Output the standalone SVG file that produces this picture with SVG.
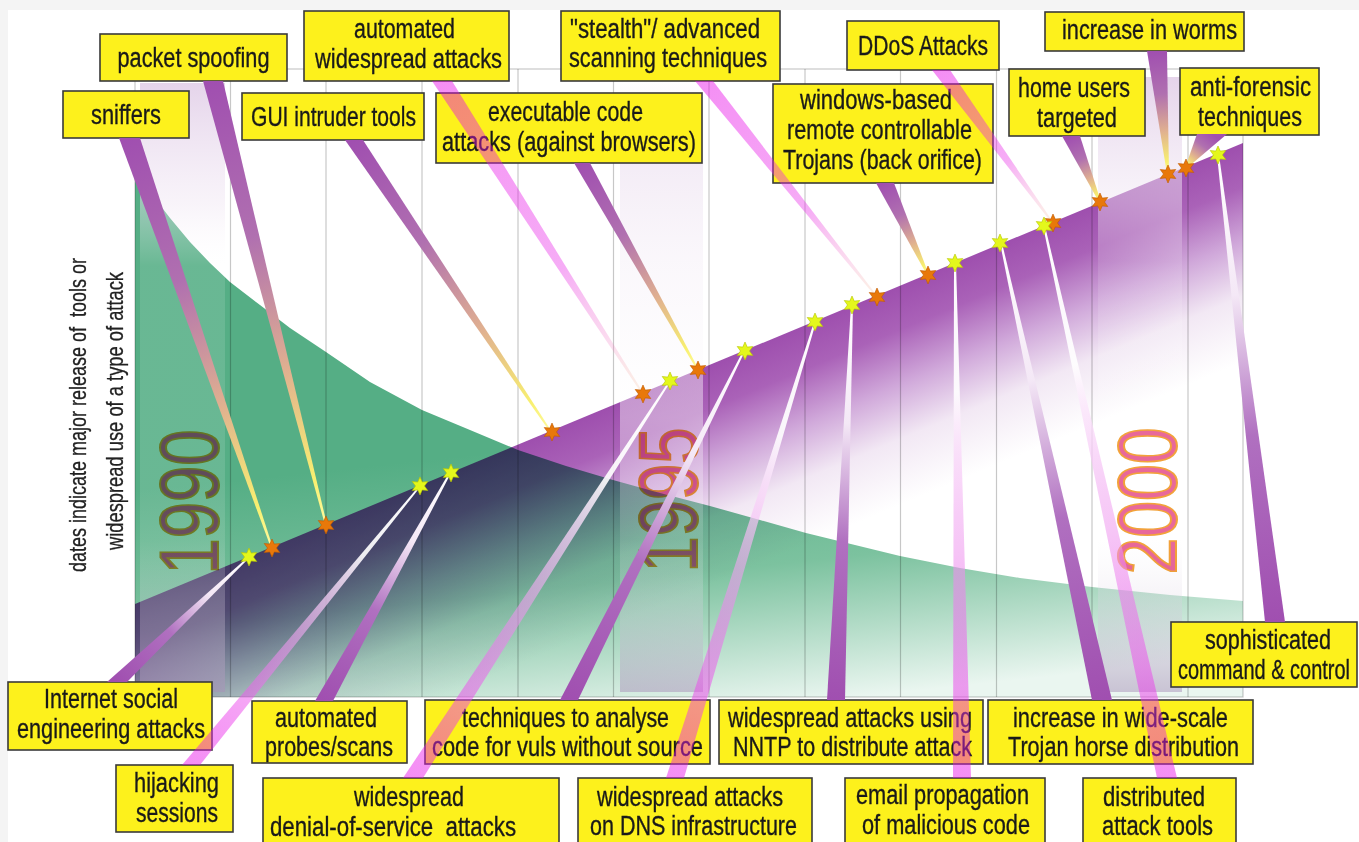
<svg xmlns="http://www.w3.org/2000/svg" width="1359" height="842" viewBox="0 0 1359 842">
<style>
.box{fill:#fdf11c;stroke:#3a3a3a;stroke-width:1.6}
.lbl{font-family:"Liberation Sans Narrow","Liberation Sans",Arial,sans-serif;font-size:27px;fill:#1a1a1a;stroke:#1a1a1a;stroke-width:0.35;text-anchor:middle}
.yr{font-family:"Liberation Sans",Arial,sans-serif;font-size:84px;fill:#e8689a;stroke:#f2a23a;stroke-width:2;text-anchor:middle;mix-blend-mode:multiply}
.axis{font-family:"Liberation Sans Narrow","Liberation Sans",Arial,sans-serif;font-size:24px;fill:#222;stroke:#222;stroke-width:0.3;text-anchor:middle}
.grid{stroke:#000;stroke-opacity:0.22;stroke-width:1.2;fill:none}
.col{fill:url(#colg)}
.ostar{fill:#e8780a;stroke:#c05a00;stroke-width:0.6}
.ystar{fill:#e4f71c;stroke:#b5c400;stroke-width:0.6}
</style>
<defs>
<linearGradient id="greenG" gradientUnits="userSpaceOnUse" x1="800" y1="420" x2="830" y2="700">
<stop offset="0" stop-color="#55ae85"/><stop offset="0.5" stop-color="#7cc29f"/><stop offset="1" stop-color="#eaf6f0"/>
</linearGradient>
<linearGradient id="purpG" gradientUnits="userSpaceOnUse" x1="700" y1="369" x2="778" y2="556">
<stop offset="0" stop-color="#9e4fae"/><stop offset="0.2" stop-color="#aa62b8"/><stop offset="0.45" stop-color="#d0a8da"/><stop offset="0.7" stop-color="#f2e8f4"/><stop offset="1" stop-color="#ffffff"/>
</linearGradient>
<linearGradient id="colg" x1="0" y1="0" x2="0" y2="1">
<stop offset="0" stop-color="#e2cfe8" stop-opacity="0.9"/><stop offset="0.2" stop-color="#f0e6f3" stop-opacity="0.45"/><stop offset="0.3" stop-color="#ffffff" stop-opacity="0.12"/><stop offset="0.75" stop-color="#ffffff" stop-opacity="0.12"/><stop offset="1" stop-color="#a890b8" stop-opacity="0.5"/>
</linearGradient>
<linearGradient id="colg2" x1="0" y1="0" x2="0" y2="1">
<stop offset="0" stop-color="#ffffff" stop-opacity="0.6"/><stop offset="0.1" stop-color="#ece0f0" stop-opacity="0.7"/><stop offset="0.3" stop-color="#f6f0f8" stop-opacity="0.5"/><stop offset="0.55" stop-color="#ffffff" stop-opacity="0.4"/><stop offset="0.75" stop-color="#ffffff" stop-opacity="0.12"/><stop offset="1" stop-color="#a890b8" stop-opacity="0.5"/>
</linearGradient>
<linearGradient id="tp">
<stop offset="0" stop-color="#a04fb0"/><stop offset="0.35" stop-color="#b070b0"/><stop offset="0.65" stop-color="#e0b090"/><stop offset="0.9" stop-color="#f8f070"/><stop offset="1" stop-color="#fffaa0"/>
</linearGradient>
<linearGradient id="tk">
<stop offset="0" stop-color="#e805e8" stop-opacity="0.45"/><stop offset="0.6" stop-color="#e830e8" stop-opacity="0.4"/><stop offset="0.85" stop-color="#f080c0" stop-opacity="0.25"/><stop offset="1" stop-color="#f0a060" stop-opacity="0.15"/>
</linearGradient>
<linearGradient id="bp">
<stop offset="0" stop-color="#a04fb0"/><stop offset="0.4" stop-color="#b070c0"/><stop offset="0.7" stop-color="#f4e8f6"/><stop offset="1" stop-color="#ffffff"/>
</linearGradient>
<linearGradient id="bk">
<stop offset="0" stop-color="#e805e8" stop-opacity="0.45"/><stop offset="0.45" stop-color="#f0a0f0" stop-opacity="0.6"/><stop offset="0.75" stop-color="#ffffff" stop-opacity="0.9"/><stop offset="1" stop-color="#ffffff" stop-opacity="1"/>
</linearGradient>
<linearGradient id="ga" href="#tp" gradientUnits="userSpaceOnUse" x1="129.5" y1="138" x2="272" y2="548"/>
<linearGradient id="gb" href="#tp" gradientUnits="userSpaceOnUse" x1="213" y1="81" x2="326" y2="525"/>
<linearGradient id="gc" href="#tp" gradientUnits="userSpaceOnUse" x1="354" y1="140" x2="551" y2="432"/>
<linearGradient id="gd" href="#tk" gradientUnits="userSpaceOnUse" x1="442" y1="81" x2="643" y2="394"/>
<linearGradient id="ge" href="#tp" gradientUnits="userSpaceOnUse" x1="582" y1="163" x2="698" y2="370"/>
<linearGradient id="gf" href="#tk" gradientUnits="userSpaceOnUse" x1="704" y1="81" x2="877" y2="297"/>
<linearGradient id="gg" href="#tp" gradientUnits="userSpaceOnUse" x1="885" y1="183" x2="928" y2="275"/>
<linearGradient id="gh" href="#tk" gradientUnits="userSpaceOnUse" x1="941" y1="70" x2="1052" y2="222"/>
<linearGradient id="gi" href="#tp" gradientUnits="userSpaceOnUse" x1="1071" y1="136" x2="1100" y2="202"/>
<linearGradient id="gj" href="#tp" gradientUnits="userSpaceOnUse" x1="1157" y1="51" x2="1168" y2="174"/>
<linearGradient id="gk" href="#tp" gradientUnits="userSpaceOnUse" x1="1212" y1="134" x2="1186" y2="168"/>
<linearGradient id="gl" href="#bp" gradientUnits="userSpaceOnUse" x1="117" y1="682" x2="249" y2="557"/>
<linearGradient id="gm" href="#bk" gradientUnits="userSpaceOnUse" x1="191" y1="765" x2="420" y2="486"/>
<linearGradient id="gn" href="#bp" gradientUnits="userSpaceOnUse" x1="324" y1="701" x2="450" y2="473"/>
<linearGradient id="go" href="#bk" gradientUnits="userSpaceOnUse" x1="413" y1="778" x2="670" y2="381"/>
<linearGradient id="gp" href="#bp" gradientUnits="userSpaceOnUse" x1="569" y1="700" x2="744" y2="351"/>
<linearGradient id="gq" href="#bk" gradientUnits="userSpaceOnUse" x1="675" y1="778" x2="815" y2="322"/>
<linearGradient id="gr" href="#bp" gradientUnits="userSpaceOnUse" x1="836" y1="700" x2="852" y2="305"/>
<linearGradient id="gs" href="#bk" gradientUnits="userSpaceOnUse" x1="962" y1="778" x2="955" y2="263"/>
<linearGradient id="gt" href="#bp" gradientUnits="userSpaceOnUse" x1="1102" y1="700" x2="1001" y2="243"/>
<linearGradient id="gu" href="#bk" gradientUnits="userSpaceOnUse" x1="1167" y1="778" x2="1044" y2="226"/>
<linearGradient id="gv" href="#bp" gradientUnits="userSpaceOnUse" x1="1275" y1="622" x2="1218" y2="155"/>
<path id="star" d="M0,-9 L2.25,-3.9 L7.79,-4.5 L4.5,0 L7.79,4.5 L2.25,3.9 L0,9 L-2.25,3.9 L-7.79,4.5 L-4.5,0 L-7.79,-4.5 L-2.25,-3.9 Z"/>
</defs>

<rect x="0" y="0" width="1359" height="842" fill="#f4f4f4"/>
<rect x="8" y="10" width="1351" height="832" fill="#ffffff"/>

<g id="chart">
<path fill="url(#greenG)" d="M135,172 L150,192 L170,218 L190,242 L210,263 L230,282 L260,305 L290,328 L326,352 L370,382 L422,410 L470,430 L518,450 L566,466 L613,480 L660,493 L710,506 L760,520 L806,533 L855,545 L900,556 L960,568 L1020,578 L1092,587 L1170,595 L1243,601 L1243,697 L135,697 Z"/>
<polygon points="135,604 1243,143 1243,697 135,697" fill="url(#purpG)" style="mix-blend-mode:multiply"/>
<rect class="col" x="140" y="83" width="85" height="609"/>
<rect x="620" y="82" width="83" height="610" fill="url(#colg2)"/>
<rect class="col" x="1098" y="77" width="84" height="615"/>
<text class="yr" transform="translate(218,502) rotate(-90)" textLength="145" lengthAdjust="spacingAndGlyphs">1990</text>
<text class="yr" transform="translate(697,500) rotate(-90)" textLength="145" lengthAdjust="spacingAndGlyphs">1995</text>
<text class="yr" transform="translate(1176,501) rotate(-90)" textLength="147" lengthAdjust="spacingAndGlyphs">2000</text>
<rect class="grid" x="135" y="69" width="1108" height="628"/>
<path class="grid" d="M230.5,69V697M326,69V697M422,69V697M518,69V697M613.5,69V697M709,69V697M805,69V697M900.5,69V697M996.5,69V697M1092,69V697M1188,69V697"/>
<text class="axis" transform="translate(86,415) rotate(-90)" textLength="314" lengthAdjust="spacingAndGlyphs">dates indicate major release of&#160; tools or</text>
<text class="axis" transform="translate(123,411) rotate(-90)" textLength="278" lengthAdjust="spacingAndGlyphs">widespread use of a type of attack</text>
</g>

<g id="nodes">
<g id="n-sniffers"><rect class="box" x="63" y="91" width="126" height="47"/><text class="lbl" x="126" y="124" textLength="70" lengthAdjust="spacingAndGlyphs">sniffers</text></g>
<g id="n-packet-spoofing"><rect class="box" x="100" y="34" width="187" height="47"/><text class="lbl" x="193.5" y="67" textLength="152" lengthAdjust="spacingAndGlyphs">packet spoofing</text></g>
<g id="n-gui"><rect class="box" x="242" y="93" width="182" height="47"/><text class="lbl" x="333.5" y="126" textLength="165" lengthAdjust="spacingAndGlyphs">GUI intruder tools</text></g>
<g id="n-auto-widespread"><rect class="box" x="304" y="11" width="205" height="70"/><text class="lbl" x="404.5" y="38" textLength="101" lengthAdjust="spacingAndGlyphs">automated</text><text class="lbl" x="408.5" y="68" textLength="187" lengthAdjust="spacingAndGlyphs">widespread attacks</text></g>
<g id="n-executable"><rect class="box" x="436" y="93" width="266" height="70"/><text class="lbl" x="565.5" y="121" textLength="155" lengthAdjust="spacingAndGlyphs">executable code</text><text class="lbl" x="569" y="151" textLength="254" lengthAdjust="spacingAndGlyphs">attacks (against browsers)</text></g>
<g id="n-stealth"><rect class="box" x="561" y="11" width="219" height="70"/><text class="lbl" x="665" y="38" textLength="190" lengthAdjust="spacingAndGlyphs">"stealth"/ advanced</text><text class="lbl" x="668" y="67" textLength="198" lengthAdjust="spacingAndGlyphs">scanning techniques</text></g>
<g id="n-windows"><rect class="box" x="773" y="84" width="220" height="99"/><text class="lbl" x="876" y="109" textLength="152" lengthAdjust="spacingAndGlyphs">windows-based</text><text class="lbl" x="879.5" y="139" textLength="185" lengthAdjust="spacingAndGlyphs">remote controllable</text><text class="lbl" x="882.5" y="169" textLength="199" lengthAdjust="spacingAndGlyphs">Trojans (back orifice)</text></g>
<g id="n-ddos"><rect class="box" x="847" y="21" width="152" height="49"/><text class="lbl" x="923" y="55" textLength="130" lengthAdjust="spacingAndGlyphs">DDoS Attacks</text></g>
<g id="n-worms"><rect class="box" x="1045" y="12" width="199" height="39"/><text class="lbl" x="1149.5" y="39" textLength="175" lengthAdjust="spacingAndGlyphs">increase in worms</text></g>
<g id="n-home"><rect class="box" x="1009" y="69" width="136" height="67"/><text class="lbl" x="1074" y="97" textLength="112" lengthAdjust="spacingAndGlyphs">home users</text><text class="lbl" x="1077" y="127" textLength="80" lengthAdjust="spacingAndGlyphs">targeted</text></g>
<g id="n-antiforensic"><rect class="box" x="1180" y="68" width="139" height="67"/><text class="lbl" x="1250.5" y="96" textLength="121" lengthAdjust="spacingAndGlyphs">anti-forensic</text><text class="lbl" x="1250" y="126" textLength="104" lengthAdjust="spacingAndGlyphs">techniques</text></g>
<g id="n-sophisticated"><rect class="box" x="1171" y="622" width="186" height="65"/><text class="lbl" x="1268" y="649" textLength="126" lengthAdjust="spacingAndGlyphs">sophisticated</text><text class="lbl" x="1264" y="679" textLength="172" lengthAdjust="spacingAndGlyphs">command &amp; control</text></g>
<g id="n-internet-social"><rect class="box" x="8" y="682" width="204" height="68"/><text class="lbl" x="111" y="708" textLength="134" lengthAdjust="spacingAndGlyphs">Internet social</text><text class="lbl" x="111" y="738" textLength="188" lengthAdjust="spacingAndGlyphs">engineering attacks</text></g>
<g id="n-hijacking"><rect class="box" x="116" y="765" width="117" height="67"/><text class="lbl" x="176.5" y="792" textLength="85" lengthAdjust="spacingAndGlyphs">hijacking</text><text class="lbl" x="177" y="822" textLength="82" lengthAdjust="spacingAndGlyphs">sessions</text></g>
<g id="n-probes"><rect class="box" x="252" y="701" width="155" height="62"/><text class="lbl" x="326" y="727" textLength="102" lengthAdjust="spacingAndGlyphs">automated</text><text class="lbl" x="329" y="756" textLength="128" lengthAdjust="spacingAndGlyphs">probes/scans</text></g>
<g id="n-dos"><rect class="box" x="263" y="778" width="296" height="70"/><text class="lbl" x="409" y="806" textLength="110" lengthAdjust="spacingAndGlyphs">widespread</text><text class="lbl" x="393" y="836" textLength="246" lengthAdjust="spacingAndGlyphs">denial-of-service&#160; attacks</text></g>
<g id="n-techniques"><rect class="box" x="425" y="700" width="285" height="64"/><text class="lbl" x="565.5" y="727" textLength="207" lengthAdjust="spacingAndGlyphs">techniques to analyse</text><text class="lbl" x="567.5" y="756" textLength="271" lengthAdjust="spacingAndGlyphs">code for vuls without source</text></g>
<g id="n-dns"><rect class="box" x="578" y="778" width="234" height="70"/><text class="lbl" x="690" y="806" textLength="186" lengthAdjust="spacingAndGlyphs">widespread attacks</text><text class="lbl" x="693.5" y="835" textLength="207" lengthAdjust="spacingAndGlyphs">on DNS infrastructure</text></g>
<g id="n-nntp"><rect class="box" x="719" y="700" width="264" height="64"/><text class="lbl" x="850" y="727" textLength="244" lengthAdjust="spacingAndGlyphs">widespread attacks using</text><text class="lbl" x="852.5" y="756" textLength="239" lengthAdjust="spacingAndGlyphs">NNTP to distribute attack</text></g>
<g id="n-email"><rect class="box" x="845" y="778" width="200" height="70"/><text class="lbl" x="942.5" y="804" textLength="173" lengthAdjust="spacingAndGlyphs">email propagation</text><text class="lbl" x="946" y="834" textLength="168" lengthAdjust="spacingAndGlyphs">of malicious code</text></g>
<g id="n-trojan"><rect class="box" x="988" y="700" width="265" height="64"/><text class="lbl" x="1120.5" y="727" textLength="215" lengthAdjust="spacingAndGlyphs">increase in wide-scale</text><text class="lbl" x="1123.5" y="756" textLength="231" lengthAdjust="spacingAndGlyphs">Trojan horse distribution</text></g>
<g id="n-distributed"><rect class="box" x="1083" y="778" width="153" height="70"/><text class="lbl" x="1154" y="806" textLength="102" lengthAdjust="spacingAndGlyphs">distributed</text><text class="lbl" x="1157.5" y="835" textLength="111" lengthAdjust="spacingAndGlyphs">attack tools</text></g>
</g>

<g id="connectors">
<polygon fill="url(#ga)" points="119,138 140,138 273,548 271,548"/>
<polygon fill="url(#gb)" points="203,81 223,81 327,525 325,525"/>
<polygon fill="url(#gc)" points="345,140 363,140 552,432 550,432"/>
<polygon fill="url(#gd)" points="432,81 452,81 644,394 642,394"/>
<polygon fill="url(#ge)" points="574,163 590,163 699,370 697,370"/>
<polygon fill="url(#gf)" points="695,81 713,81 878,297 876,297"/>
<polygon fill="url(#gg)" points="876,183 894,183 929,275 927,275"/>
<polygon fill="url(#gh)" points="932,70 950,70 1053,222 1051,222"/>
<polygon fill="url(#gi)" points="1062,136 1080,136 1101,202 1099,202"/>
<polygon fill="url(#gj)" points="1147,51 1167,51 1169,174 1167,174"/>
<polygon fill="url(#gk)" points="1197,134 1227,134 1187,168 1185,168"/>
<polygon fill="url(#gl)" points="107,682 127,682 250,557 248,557"/>
<polygon fill="url(#gm)" points="182,765 200,765 421,486 419,486"/>
<polygon fill="url(#gn)" points="315,701 333,701 451,473 449,473"/>
<polygon fill="url(#go)" points="403,778 423,778 671,381 669,381"/>
<polygon fill="url(#gp)" points="560,700 578,700 745,351 743,351"/>
<polygon fill="url(#gq)" points="666,778 684,778 816,322 814,322"/>
<polygon fill="url(#gr)" points="827,700 845,700 853,305 851,305"/>
<polygon fill="url(#gs)" points="953,778 971,778 956,263 954,263"/>
<polygon fill="url(#gt)" points="1092,700 1112,700 1002,243 1000,243"/>
<polygon fill="url(#gu)" points="1157,778 1177,778 1045,226 1043,226"/>
<polygon fill="url(#gv)" points="1265,622 1285,622 1219,155 1217,155"/>
<g id="stars">
<use href="#star" class="ostar" x="272" y="548"/>
<use href="#star" class="ostar" x="326" y="525"/>
<use href="#star" class="ostar" x="552" y="432"/>
<use href="#star" class="ostar" x="643" y="394"/>
<use href="#star" class="ostar" x="698" y="370"/>
<use href="#star" class="ostar" x="877" y="297"/>
<use href="#star" class="ostar" x="928" y="275"/>
<use href="#star" class="ostar" x="1053" y="223"/>
<use href="#star" class="ostar" x="1100" y="202"/>
<use href="#star" class="ostar" x="1168" y="174"/>
<use href="#star" class="ostar" x="1186" y="168"/>
<use href="#star" class="ystar" x="249" y="557"/>
<use href="#star" class="ystar" x="420" y="486"/>
<use href="#star" class="ystar" x="451" y="473"/>
<use href="#star" class="ystar" x="670" y="381"/>
<use href="#star" class="ystar" x="745" y="351"/>
<use href="#star" class="ystar" x="815" y="322"/>
<use href="#star" class="ystar" x="852" y="305"/>
<use href="#star" class="ystar" x="955" y="263"/>
<use href="#star" class="ystar" x="1000" y="243"/>
<use href="#star" class="ystar" x="1044" y="226"/>
<use href="#star" class="ystar" x="1218" y="155"/>
</g>
</g>
</svg>
